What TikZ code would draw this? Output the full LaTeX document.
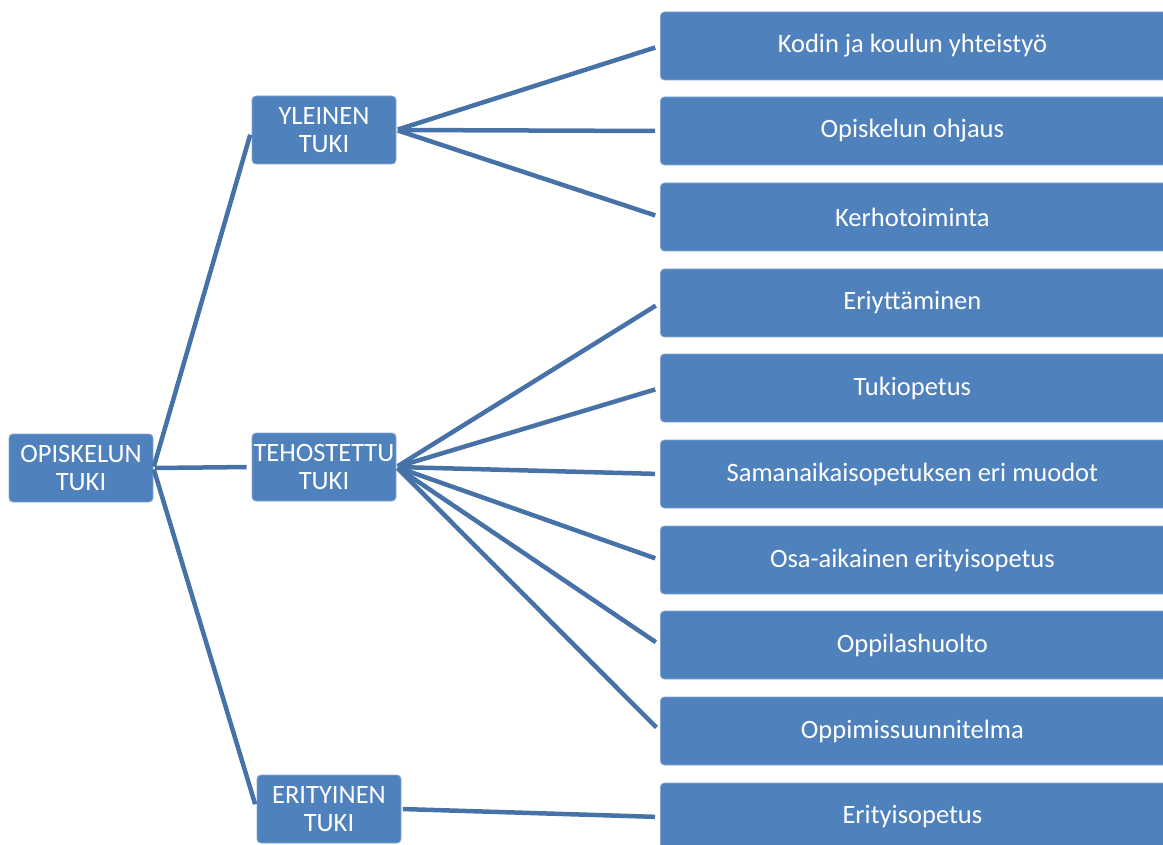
\documentclass[tikz,border=0pt]{standalone}
\usepackage{fontspec}
\setmainfont{Carlito}
\definecolor{boxfill}{RGB}{79,129,189}
\definecolor{linecol}{RGB}{70,114,168}
\begin{document}
\begin{tikzpicture}[x=1pt,y=-1pt,
  box/.style={draw=boxfill!70!white, line width=0.8pt, fill=boxfill, rounded corners=4pt, text=white, align=center,
    font=\fontsize{26.5}{28}\selectfont, inner sep=0pt},
  small/.style={box, minimum width=144pt, minimum height=68pt},
  wide/.style={box, minimum width=512pt, minimum height=68pt},
  conn/.style={draw=linecol, line width=4.5pt, shorten >=5pt, shorten <=1.5pt}]
\useasboundingbox (0,0) rectangle (1163,845);
\clip (0,0) rectangle (1163,845);
\node[small] (root) at (81,468) {OPISKELUN\\TUKI};
\node[small] (yl) at (324,130) {YLEINEN\\TUKI};
\node[small] (te) at (324,467) {TEHOSTETTU\\TUKI};
\node[small] (er) at (329,809) {ERITYINEN\\TUKI};
\node[wide,anchor=west] (c1) at (660,46) {\hspace*{-8pt}Kodin ja koulun yhteistyö};
\node[wide,anchor=west] (c2) at (660,131) {\hspace*{-8pt}Opiskelun ohjaus};
\node[wide,anchor=west] (c3) at (660,217) {\hspace*{-8pt}Kerhotoiminta};
\node[wide,anchor=west] (c4) at (660,303) {\hspace*{-8pt}Eriyttäminen};
\node[wide,anchor=west] (c5) at (660,388) {\hspace*{-8pt}Tukiopetus};
\node[wide,anchor=west] (c6) at (660,474) {\hspace*{-8pt}Samanaikaisopetuksen eri muodot};
\node[wide,anchor=west] (c7) at (660,560) {\hspace*{-8pt}Osa-aikainen erityisopetus};
\node[wide,anchor=west] (c8) at (660,645) {\hspace*{-8pt}Oppilashuolto};
\node[wide,anchor=west] (c9) at (660,731) {\hspace*{-8pt}Oppimissuunnitelma};
\node[wide,anchor=west] (c10) at (660,817) {\hspace*{-8pt}Erityisopetus};
\foreach \t in {yl,te,er} \draw[conn] (root.east) -- (\t.west);
\foreach \t in {c1,c2,c3} \draw[conn] (yl.east) -- (\t.west);
\foreach \t in {c4,c5,c6,c7,c8,c9} \draw[conn] (te.east) -- (\t.west);
\draw[conn] (er.east) -- (c10.west);
\end{tikzpicture}
\end{document}
